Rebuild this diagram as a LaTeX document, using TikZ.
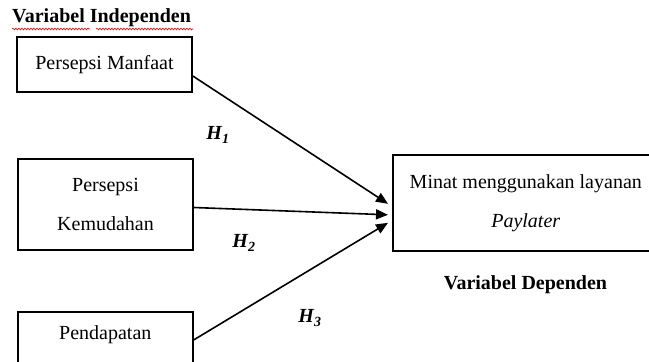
\documentclass[tikz,border=0pt]{standalone}
\usepackage{fontspec}
\setmainfont{Liberation Serif}
\usetikzlibrary{arrows.meta,decorations.pathmorphing,calc}
\begin{document}
\begin{tikzpicture}[x=1pt,y=-1pt,
  txt/.style={font=\fontsize{20}{39}\selectfont},
  box/.style={draw, line width=1.6pt, txt, align=center, inner sep=0pt},
  conn/.style={line width=1.6pt, -{Triangle[length=12pt,width=10pt]}},
  hyp/.style={font=\fontsize{20}{24}\selectfont\bfseries\itshape},
  wavy/.style={red, line width=0.6pt, decorate, decoration={snake, amplitude=0.9pt, segment length=3pt}}]
\useasboundingbox (0,0) rectangle (649,362);
\clip (0,0) rectangle (649,362);
% title
\node[anchor=west, font=\fontsize{20}{24}\selectfont\bfseries, inner sep=0pt] (tin) at (12,18) {Variabel Independen};
\coordinate (w1a) at (12,29); \coordinate (w1b) at (90,29);
\coordinate (w2a) at (96,29); \coordinate (w2b) at (193,29);
\draw[wavy] (w1a) -- (w1b);
\draw[wavy] (w2a) -- (w2b);
% boxes
\node[box, minimum width=175pt, minimum height=55pt] (p1) at (104.5,64.5) {\raisebox{5pt}{Persepsi Manfaat}};
\node[box, minimum width=175pt, minimum height=91pt] (p2) at (105.5,204.5) {\raisebox{2pt}{\parbox{175pt}{\centering Persepsi\\Kemudahan}}};
\node[box, anchor=north west, minimum width=175pt, text width=175pt, text height=14pt, text depth=60pt, inner ysep=14pt, inner xsep=0pt] (p3) at (17,311) {Pendapatan};
\node[box, anchor=north west, minimum width=266pt, minimum height=96pt] (p4) at (392,154) {\raisebox{9pt}{\parbox{266pt}{\centering Minat menggunakan layanan\\\textit{Paylater}}}};
\node[font=\fontsize{20}{24}\selectfont\bfseries, inner sep=0pt] (tdep) at (525.5,285) {Variabel Dependen};
% connectors
\coordinate (s1) at ($(p1.east)+(0,11.5)$);
\coordinate (s2) at ($(p2.east)+(0,3)$);
\coordinate (s3) at ($(p3.north east)+(0,29)$);
\coordinate (e1) at ($(p4.west)+(-4,1)$);
\coordinate (e2) at ($(p4.west)+(-4,12)$);
\coordinate (e3) at ($(p4.west)+(-4,20)$);
\draw[conn] (s1) -- (e1);
\draw[conn] (s2) -- (e2);
\draw[conn] (s3) -- (e3);
% labels
\node[hyp, inner sep=0pt] (h1) at (218,135) {H\textsubscript{1}};
\node[hyp, inner sep=0pt] (h2) at (244,243) {H\textsubscript{2}};
\node[hyp, inner sep=0pt] (h3) at (310,318) {H\textsubscript{3}};
\end{tikzpicture}
\end{document}
